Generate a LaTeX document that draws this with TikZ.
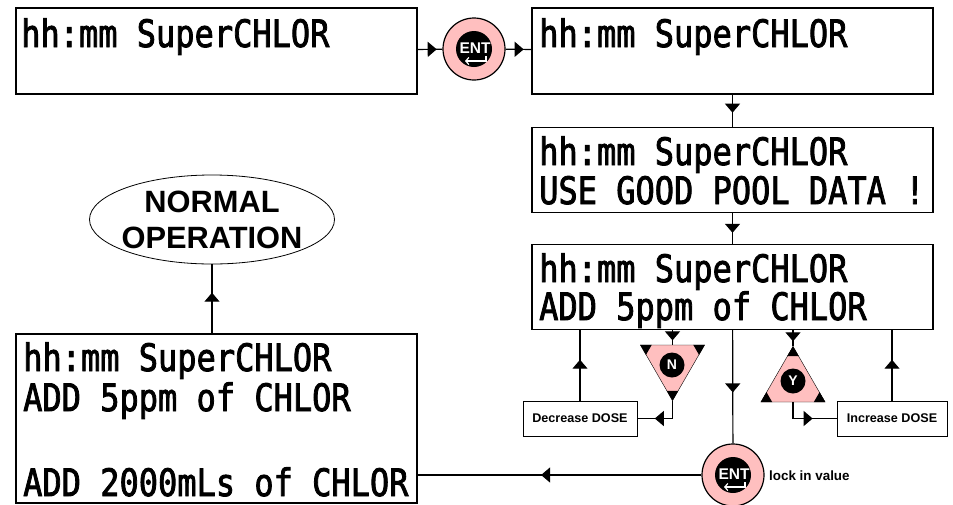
\documentclass[tikz,border=0pt]{standalone}
\usepackage{graphicx}
\usepackage{fontspec}
\setmainfont{Liberation Sans}
\newfontfamily\lcdfont[RawFeature={embolden=2.4}]{DejaVu Sans Mono}
\usetikzlibrary{arrows.meta,calc,shapes.geometric,decorations.markings}
\definecolor{btnpink}{HTML}{FFBFBF}
\newcommand{\lcdline}[1]{\scalebox{1}[1.18]{#1}}
\tikzset{
    lcdbox/.style = {rectangle,
                    fill=white,
                    draw=black,
                    very thick,
                    minimum width=401pt,
                    minimum height=85pt,
                    inner sep=0pt},
    dosebox/.style = {rectangle,
                    fill=white,
                    draw=black,
                    thick,
                    minimum height=35pt,
                    inner sep=0pt,
                    font=\fontsize{12.6}{14}\selectfont\bfseries},
    lcd/.style =    {anchor=base west,
                    inner sep=0pt,
                    text=black,
                    font=\fontsize{32}{36}\lcdfont},
    btn/.style =    {circle,
                    fill=btnpink,
                    draw=black,
                    very thick,
                    minimum size=62pt,
                    inner sep=0pt},
    btnface/.style = {circle,
                    fill=black,
                    text=white,
                    minimum size=25pt,
                    inner sep=0pt,
                    font=\fontsize{14}{14}\selectfont\bfseries},
    tri/.style =    {regular polygon,
                    regular polygon sides=3,
                    fill=btnpink,
                    draw=black,
                    minimum size=74pt,
                    inner sep=0pt},
    flow/.style =   {draw=black,
                    very thick,
                    postaction={decorate,
                    decoration={markings,mark=at position #1 with {\arrow{Triangle[length=9pt,width=15pt]}}}}},
}
\newcommand{\entface}[1]{
    \node[btnface,minimum size=36pt] (#1face) at (#1) {};
    \node[text=white,inner sep=0pt,font=\fontsize{15.5}{16}\selectfont\bfseries] (#1text) at ($(#1)+(1,-1)$) {ENT};
    \coordinate (#1a) at ($(#1)+(12,7)$);
    \coordinate (#1b) at ($(#1)+(12,12)$);
    \coordinate (#1c) at ($(#1)+(-9,12)$);
    \draw[white,very thick,-{Straight Barb[length=3pt,width=7pt]}] (#1a) -- (#1b) -- (#1c);
}
\begin{document}
\begin{tikzpicture}[x=1pt,y=-1pt]
    \useasboundingbox (0,0) rectangle (953,504);
    % display boxes
    \node[lcdbox,minimum height=86pt]   (boxA) at (216.5,51)    {};
    \node[lcdbox,minimum height=86pt]   (boxB) at (732.5,51)    {};
    \node[lcdbox]                       (boxC) at (732.5,170)   {};
    \node[lcdbox]                       (boxD) at (732.5,287)   {};
    \node[lcdbox,minimum height=169pt]  (boxE) at (216.5,418.5) {};
    \node[draw=black,thick,ellipse,minimum width=245pt,minimum height=89pt,inner sep=-12pt,
          align=center,font=\fontsize{30.8}{36}\selectfont\bfseries] (normal) at (212,219.5) {NORMAL\\OPERATION};
    % display texts
    \node[lcd] (tA)  at (21,47)   {\lcdline{hh:mm SuperCHLOR}};
    \node[lcd] (tB)  at (539,47)  {\lcdline{hh:mm SuperCHLOR}};
    \node[lcd] (tC)  at (539,165) {\lcdline{hh:mm SuperCHLOR}};
    \node[lcd] (tC2) at (539,204) {\lcdline{USE GOOD POOL DATA !}};
    \node[lcd] (tD)  at (539,282) {\lcdline{hh:mm SuperCHLOR}};
    \node[lcd] (tD2) at (539,320) {\lcdline{ADD 5ppm of CHLOR}};
    \node[lcd] (tE)  at (23,371)  {\lcdline{hh:mm SuperCHLOR}};
    \node[lcd] (tE2) at (23,411)  {\lcdline{ADD 5ppm of CHLOR}};
    \node[lcd] (tE3) at (23,496)  {\lcdline{ADD 2000mLs of CHLOR}};
    % buttons
    \node[btn] (entA) at (474,49)  {};
    \node[btn] (entB) at (733,475) {};
    \entface{entA}
    \entface{entB}
    \node[tri,shape border rotate=180] (triN) at (672.5,363.5) {};
    \node[tri]                         (triY) at (793,383.5)   {};
    \foreach \t in {triN,triY}
        \foreach \c/\a/\b in {1/2/3,2/3/1,3/1/2}
            \fill[black] (\t.corner \c) -- ($(\t.corner \c)!.18!(\t.corner \a)$) -- ($(\t.corner \c)!.18!(\t.corner \b)$) -- cycle;
    \node[btnface] (faceN) at (672,365) {N};
    \node[btnface] (faceY) at (793,381) {Y};
    \node[dosebox,minimum width=114pt] (dec) at (580,418.5) {Decrease DOSE};
    \node[dosebox,minimum width=110pt] (inc) at (892,418.5) {\raisebox{1.5pt}{Increase DOSE}};
    \node[inner sep=0pt,anchor=west,font=\fontsize{13.4}{15}\selectfont\bfseries] (lock) at (769,476) {lock in value};
    % connectors
    \path[flow=.77] (boxA) -- (entA);
    \path[flow=.70] (entA) -- (boxB);
    \path[flow=.56] (boxB) -- (boxC);
    \path[flow=.64] (boxC) -- (boxD);
    \path[flow=.55] (boxD) -- (entB);
    \path[flow=.565] (entB) -- (entB -| boxE.east);
    \path[flow=.59] (boxE.north -| normal) -- (normal);
    \path[flow=.58] (dec.north) -- (dec.north |- boxD.south);
    \path[flow=.58] (inc.north) -- (inc.north |- boxD.south);
    \path[flow=.70] (boxD.south -| triN.corner 1) -- (triN.corner 1 |- triN.corner 2);
    \path[flow=.70] (boxD.south -| triY.corner 1) -- (triY.corner 1);
    \path[flow=.67] (triN.corner 1) |- (dec.east);
    \path[flow=.60] (triY.corner 1 |- triY.corner 2) |- (inc.west);
\end{tikzpicture}
\end{document}
